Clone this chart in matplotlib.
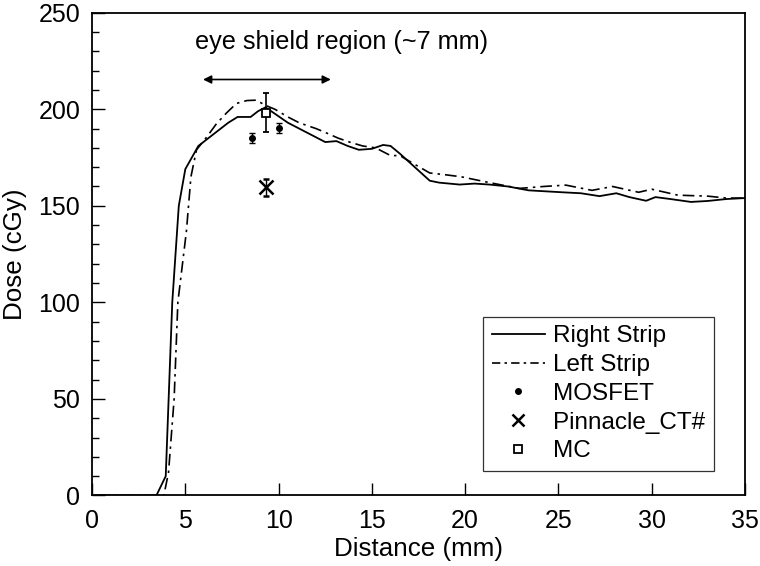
import matplotlib.pyplot as plt
import numpy as np

plt.rcParams['font.family'] = ['Liberation Sans', 'DejaVu Sans']

# dose profile along the strips
right_x = [0.3, 3.45, 3.95, 4.3, 4.65, 5.0, 5.7, 6.5, 7.3, 7.8, 8.5, 8.9, 9.3, 9.6,
           10.5, 11.5, 12.5, 13.1, 13.7, 14.3, 15.0, 15.6, 16.0, 16.5, 17.3, 18.1,
           18.6, 19.7, 20.5, 21.3, 22.3, 23.4, 24.3, 25.2, 26.2, 27.2, 28.1, 28.8,
           29.7, 30.2, 31.0, 32.1, 33.0, 34.0, 35.0]
right_y = [0, 0, 10, 100, 150, 169, 181, 187, 193, 196, 196, 199, 201, 199,
           193, 188, 183, 183.5, 181, 179, 179.5, 181.5, 181, 177, 170, 163,
           162, 161, 161.5, 161, 160, 158, 157.5, 157, 156.5, 155, 156.5, 154.5,
           152.6, 154.5, 153.5, 152, 152.5, 153.5, 154]

left_x = [0.3, 3.85, 4.1, 4.4, 4.6, 5.06, 5.3, 5.6, 6.1, 6.67, 7.2, 7.74, 8.3, 8.8,
          9.3, 9.8, 10.5, 11.1, 12.0, 12.5, 13.2, 13.8, 14.5, 15.2, 16.0, 16.5,
          17.2, 18.1, 19.0, 19.8, 21.3, 22.9, 24.2, 25.4, 26.8, 27.9, 29.3, 30.0,
          31.4, 33.0, 34.0, 35.0]
left_y = [0, 0, 12, 50, 100, 137, 165, 179, 185, 192.5, 198, 203, 204.5, 204.7,
          202, 200, 196, 193, 190, 188, 185, 183, 181, 180, 176, 176,
          172, 167, 166, 165, 162, 159, 160, 160.7, 158, 160, 157, 158.6,
          155.5, 155, 154, 154]

# point measurements
mosfet_x = [8.6, 10.0]
mosfet_y = [185.2, 190.4]
mosfet_err = [2.5, 2.5]

pinnacle_x = [9.3]
pinnacle_y = [159.5]
pinnacle_err = [4.5]

mc_x = [9.3]
mc_y = [198.3]
mc_err = [10]

fig = plt.figure(figsize=(7.6, 5.66), dpi=100)
ax = fig.add_axes([0.1211, 0.1246, 0.8592, 0.853])

ax.plot(right_x, right_y, color='black', lw=1.3)
ax.plot(left_x, left_y, color='black', lw=1.2, linestyle=(0, (7, 3, 1.5, 3)))

ax.errorbar(mosfet_x, mosfet_y, yerr=mosfet_err, fmt='o', color='black', ms=4,
            capsize=2.5, elinewidth=1, capthick=1)
ax.errorbar(pinnacle_x, pinnacle_y, yerr=pinnacle_err, fmt='x', color='black', ms=10,
            mew=1.8, capsize=2.5, elinewidth=1, capthick=1)
ax.errorbar(mc_x, mc_y, yerr=mc_err, fmt='s', color='black', mfc='white', ms=6,
            mew=1.3, capsize=2.5, elinewidth=1.2, capthick=1)

# legend proxies (legend shows markers without error bars)
h1, = ax.plot([], [], color='black', lw=1.3)
h2, = ax.plot([], [], color='black', lw=1.2, linestyle=(0, (5, 2.5, 1.5, 2.5)))
h3, = ax.plot([], [], 'o', color='black', ms=4)
h4, = ax.plot([], [], 'x', color='black', ms=8, mew=1.8)
h5, = ax.plot([], [], 's', color='black', mfc='white', ms=6, mew=1.3)

# eye shield region arrow
ax.annotate('', xy=(5.95, 215.4), xytext=(12.8, 215.4),
            arrowprops=dict(arrowstyle='<|-|>', color='black', lw=1.2,
                            mutation_scale=12, shrinkA=0, shrinkB=0))
ax.text(5.5, 235.0, 'eye shield region (~7 mm)', fontsize=18.2, ha='left', va='center')

ax.set_xlim(0, 35)
ax.set_ylim(0, 250)
ax.set_xticks(np.arange(0, 36, 5))
ax.set_yticks(np.arange(0, 251, 50))
ax.set_yticks(np.arange(0, 251, 10), minor=True)
ax.tick_params(which='major', direction='in', length=9, width=1, labelsize=18)
ax.tick_params(axis='y', which='major', pad=8.5)
ax.tick_params(axis='x', which='major', pad=9.5)
ax.tick_params(which='minor', direction='in', length=5, width=1)
for s in ax.spines.values():
    s.set_linewidth(1.3)

ax.set_xlabel('Distance (mm)', fontsize=18.7, labelpad=3)
ax.set_ylabel('Dose (cGy)', fontsize=18.7, labelpad=8)

leg = ax.legend([h1, h2, h3, h4, h5],
                ['Right Strip', 'Left Strip', 'MOSFET', 'Pinnacle_CT#', 'MC'],
                loc='upper left', bbox_to_anchor=(0.5988, 0.3703),
                fontsize=17.5, frameon=True, fancybox=False,
                edgecolor='black', handlelength=2.2, handletextpad=0.33,
                borderpad=0.35, labelspacing=0.28, borderaxespad=0)
leg.get_frame().set_linewidth(0.9)

fig.savefig('out.png', dpi=100)
